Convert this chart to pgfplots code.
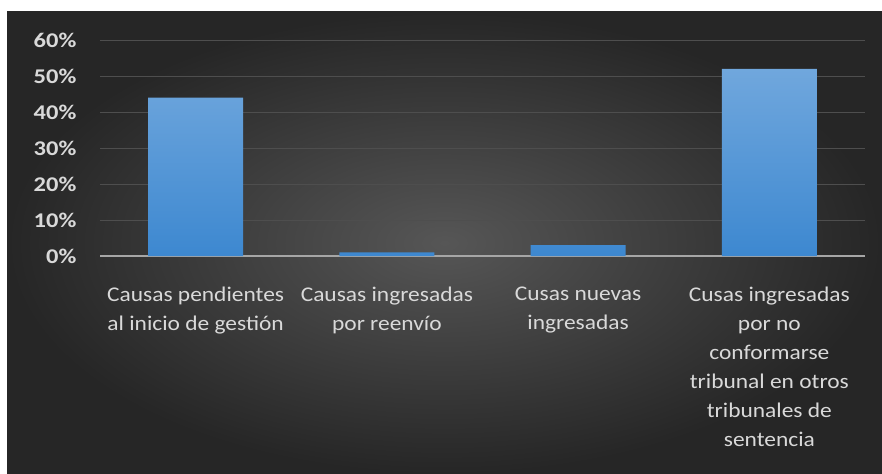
\documentclass[border=0pt]{standalone}
\usepackage{fontspec}
\setmainfont{Carlito}
\usepackage{pgfplots}
\pgfplotsset{compat=1.18}
\definecolor{bgout}{HTML}{262626}
\definecolor{bgin}{HTML}{565656}
\definecolor{gridc}{HTML}{4E4E4E}
\definecolor{txt}{HTML}{D9D9D9}
\definecolor{bartop}{HTML}{70A7DD}
\definecolor{barbot}{HTML}{3D88D0}
\begin{document}
\begin{tikzpicture}
\fill[white] (0bp,0bp) rectangle (882bp,474bp);
\shade[inner color=bgin, outer color=bgout] (7bp,0bp) rectangle (882bp,462bp);
\begin{axis}[
  at={(100bp,218bp)}, anchor=south west,
  scale only axis, width=765bp, height=216bp,
  xmin=-0.5, xmax=3.5, ymin=0, ymax=60,
  axis line style={draw=none},
  tick style={draw=none},
  ytick={0,10,...,60},
  ymajorgrids, grid style={gridc, line width=1bp},
  yticklabel={\pgfmathprintnumber{\tick}\%},
  /pgf/number format/assume math mode=true,
  yticklabel style={font=\bfseries\fontsize{21}{24}\selectfont, text=txt, xscale=1.17, anchor=east, xshift=-20bp, inner sep=0pt},
  xtick={0,1,2,3},
  xticklabels={{Causas pendientes\\al inicio de gestión},{Causas ingresadas\\por reenvío},{Cusas nuevas\\ingresadas},{Cusas ingresadas\\por no\\conformarse\\tribunal en otros\\tribunales de\\sentencia}},
  xticklabel style={font=\fontsize{21}{29}\selectfont, text=txt, xscale=1.12, align=center, anchor=north, inner sep=0pt, yshift=-31bp},
  extra y ticks={0}, extra y tick labels={},
  extra y tick style={grid style={color=black!35!white, line width=2bp}},
  clip=false,
]
\addplot[ybar, bar width=95bp, draw=none, top color=bartop, bottom color=barbot] coordinates {(0,44) (1,1) (2,3) (3,52)};
\end{axis}
\end{tikzpicture}
\end{document}
